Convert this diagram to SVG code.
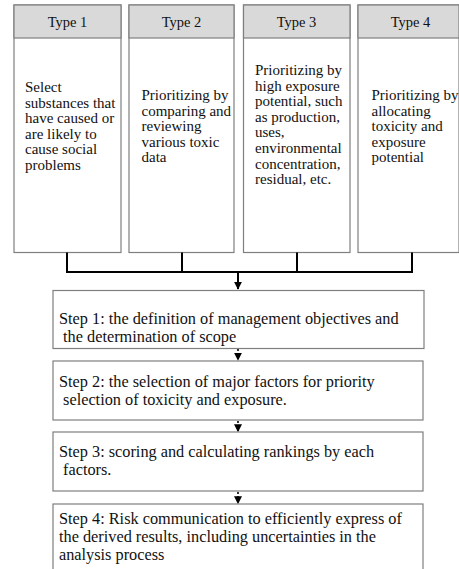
<svg xmlns="http://www.w3.org/2000/svg" width="459" height="569" viewBox="0 0 459 569">
<defs>
<style>
.box{fill:#fff;stroke:#7f7f7f;stroke-width:1.2}
.hdr{fill:#d9d9d9;stroke:#7f7f7f;stroke-width:1.2}
.t{font-family:'Liberation Serif','Times New Roman',serif;font-size:15px;fill:#111}
.h{font-family:'Liberation Serif','Times New Roman',serif;font-size:14.5px;fill:#111;text-anchor:middle}
.s{font-family:'Liberation Serif','Times New Roman',serif;font-size:16.3px;fill:#111}
.conn{fill:none;stroke:#000;stroke-width:2}
.dot{fill:none;stroke:#000;stroke-width:1.6;stroke-dasharray:2,2}
</style>
<marker id="ah" viewBox="0 0 10 10" refX="9" refY="5" markerWidth="4" markerHeight="4" orient="auto" markerUnits="strokeWidth">
<path d="M0,0 L10,5 L0,10 z" fill="#000"/>
</marker>
<marker id="ah2" viewBox="0 0 10 10" refX="9" refY="5" markerWidth="5" markerHeight="5" orient="auto" markerUnits="strokeWidth">
<path d="M0,0 L10,5 L0,10 z" fill="#000"/>
</marker>
</defs>
<g id="type1">
<rect class="box" x="14" y="5" width="107" height="247.5"/>
<rect class="hdr" x="14" y="5" width="107" height="33"/>
<text class="h" x="67.5" y="27">Type 1</text>
<text class="t" x="25" y="92">Select</text>
<text class="t" x="25" y="107.6">substances that</text>
<text class="t" x="25" y="123.2">have caused or</text>
<text class="t" x="25" y="138.8">are likely to</text>
<text class="t" x="25" y="154.4">cause social</text>
<text class="t" x="25" y="170">problems</text>
</g>
<g id="type2">
<rect class="box" x="129" y="5" width="105" height="247.5"/>
<rect class="hdr" x="129" y="5" width="105" height="33"/>
<text class="h" x="181.5" y="27">Type 2</text>
<text class="t" x="141.5" y="100">Prioritizing by</text>
<text class="t" x="141.5" y="115.6">comparing and</text>
<text class="t" x="141.5" y="131.2">reviewing</text>
<text class="t" x="141.5" y="146.8">various toxic</text>
<text class="t" x="141.5" y="162.4">data</text>
</g>
<g id="type3">
<rect class="box" x="243.5" y="5" width="106.5" height="247.5"/>
<rect class="hdr" x="243.5" y="5" width="106.5" height="33"/>
<text class="h" x="296.5" y="27">Type 3</text>
<text class="t" x="255" y="75">Prioritizing by</text>
<text class="t" x="255" y="90.6">high exposure</text>
<text class="t" x="255" y="106.2">potential, such</text>
<text class="t" x="255" y="121.8">as production,</text>
<text class="t" x="255" y="137.4">uses,</text>
<text class="t" x="255" y="153">environmental</text>
<text class="t" x="255" y="168.6">concentration,</text>
<text class="t" x="255" y="184.2">residual, etc.</text>
</g>
<g id="type4">
<rect class="box" x="358" y="5" width="101" height="247.5"/>
<rect class="hdr" x="358" y="5" width="101" height="33"/>
<text class="h" x="410.5" y="27">Type 4</text>
<text class="t" x="371.5" y="100">Prioritizing by</text>
<text class="t" x="371.5" y="115.6">allocating</text>
<text class="t" x="371.5" y="131.2">toxicity and</text>
<text class="t" x="371.5" y="146.8">exposure</text>
<text class="t" x="371.5" y="162.4">potential</text>
</g>
<g id="connectors">
<path class="conn" d="M67,252.5 V272 H412 V252.5 M182,252.5 V272 M297,252.5 V272"/>
<path class="conn" d="M238,272 V289" marker-end="url(#ah)"/>
<path class="dot" d="M238,349 V360" marker-end="url(#ah2)"/>
<path class="dot" d="M238,421 V431.5" marker-end="url(#ah2)"/>
<path class="dot" d="M238,492 V503.5" marker-end="url(#ah2)"/>
</g>
<g id="step1">
<rect class="box" x="53" y="290.5" width="371" height="58"/>
<text class="s" x="59" y="323.5" xml:space="preserve">Step 1: the definition of management objectives and</text>
<text class="s" x="59" y="342" xml:space="preserve"> the determination of scope</text>
</g>
<g id="step2">
<rect class="box" x="53" y="361" width="370" height="59"/>
<text class="s" x="59" y="387" xml:space="preserve">Step 2: the selection of major factors for priority</text>
<text class="s" x="59" y="405" xml:space="preserve"> selection of toxicity and exposure.</text>
</g>
<g id="step3">
<rect class="box" x="53" y="432" width="370" height="59"/>
<text class="s" x="59" y="457" xml:space="preserve">Step 3: scoring and calculating rankings by each</text>
<text class="s" x="59" y="475" xml:space="preserve"> factors.</text>
</g>
<g id="step4">
<rect class="box" x="53" y="504" width="370" height="75"/>
<text class="s" x="59" y="524">Step 4: Risk communication to efficiently express of</text>
<text class="s" x="59" y="542">the derived results, including uncertainties in the</text>
<text class="s" x="59" y="560">analysis process</text>
</g>
</svg>
